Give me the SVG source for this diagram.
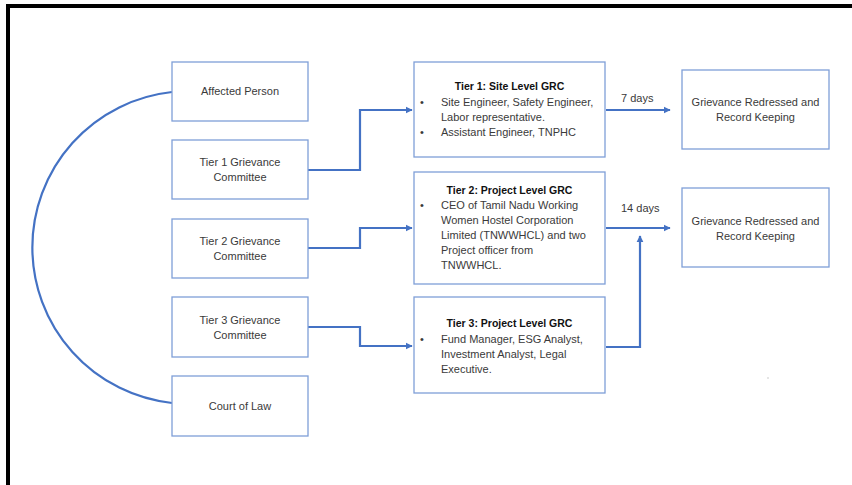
<svg xmlns="http://www.w3.org/2000/svg" width="852" height="485" viewBox="0 0 852 485">
<style>
.box{fill:#fff;stroke:#7F9FD8;stroke-width:1.3}
.t{font-family:"Liberation Sans","Open Sans",Arial,sans-serif;font-size:11px;fill:#3a3a3a}
.c{text-anchor:middle}
.b{font-weight:bold;fill:#111;font-size:10.5px}
.con{fill:none;stroke:#4472C4;stroke-width:2.2}
</style>
<defs>
<marker id="ah" viewBox="0 0 10 10" refX="9" refY="5" markerWidth="3.2" markerHeight="3.2" orient="auto" markerUnits="strokeWidth">
<path d="M0,0 L10,5 L0,10 z" fill="#4472C4"/>
</marker>
</defs>
<rect width="852" height="485" fill="#fff"/>
<g id="frame" fill="none" stroke="#000" stroke-width="4">
<path d="M8,487 L8,6 L854,6"/>
</g>
<g id="connectors">
<path class="con" d="M172,92 A156.4 156.4 0 0 0 172,403"/>
<path class="con" d="M308,170 L360,170 L360,110 L412,110" marker-end="url(#ah)"/>
<path class="con" d="M308,248 L360,248 L360,228 L412,228" marker-end="url(#ah)"/>
<path class="con" d="M308,327 L360,327 L360,346 L412,346" marker-end="url(#ah)"/>
<path class="con" d="M606,110 L670,110" marker-end="url(#ah)"/>
<path class="con" d="M606,228 L670,228" marker-end="url(#ah)"/>
<path class="con" d="M606,347 L640,347 L640,236" marker-end="url(#ah)"/>
<text class="t" x="621" y="101.5">7 days</text>
<text class="t" x="621" y="211.5">14 days</text>
</g>
<g id="affected">
<rect class="box" x="172" y="62" width="136" height="59"/>
<text class="t c" x="240" y="95">Affected Person</text>
</g>
<g id="tier1gc">
<rect class="box" x="172" y="140" width="136" height="59"/>
<text class="t c" x="240" y="166">Tier 1 Grievance</text>
<text class="t c" x="240" y="181">Committee</text>
</g>
<g id="tier2gc">
<rect class="box" x="172" y="219" width="136" height="59"/>
<text class="t c" x="240" y="245">Tier 2 Grievance</text>
<text class="t c" x="240" y="260">Committee</text>
</g>
<g id="tier3gc">
<rect class="box" x="172" y="297" width="136" height="60"/>
<text class="t c" x="240" y="324">Tier 3 Grievance</text>
<text class="t c" x="240" y="339">Committee</text>
</g>
<g id="court">
<rect class="box" x="172" y="376" width="136" height="60"/>
<text class="t c" x="240" y="410">Court of Law</text>
</g>
<g id="tier1grc">
<rect class="box" x="414" y="62" width="191" height="95"/>
<text class="t c b" x="509.5" y="90">Tier 1: Site Level GRC</text>
<text class="t" x="420" y="106">•</text>
<text class="t" x="441" y="106">Site Engineer, Safety Engineer,</text>
<text class="t" x="441" y="121">Labor representative.</text>
<text class="t" x="420" y="136">•</text>
<text class="t" x="441" y="136">Assistant Engineer, TNPHC</text>
</g>
<g id="tier2grc">
<rect class="box" x="414" y="172" width="191" height="112"/>
<text class="t c b" x="509.5" y="194">Tier 2: Project Level GRC</text>
<text class="t" x="420" y="209">•</text>
<text class="t" x="441" y="209">CEO of Tamil Nadu Working</text>
<text class="t" x="441" y="224">Women Hostel Corporation</text>
<text class="t" x="441" y="239">Limited (TNWWHCL) and two</text>
<text class="t" x="441" y="254">Project officer from</text>
<text class="t" x="441" y="269">TNWWHCL.</text>
</g>
<g id="tier3grc">
<rect class="box" x="414" y="297" width="191" height="96"/>
<text class="t c b" x="509.5" y="327">Tier 3: Project Level GRC</text>
<text class="t" x="420" y="343">•</text>
<text class="t" x="441" y="343">Fund Manager, ESG Analyst,</text>
<text class="t" x="441" y="358">Investment Analyst, Legal</text>
<text class="t" x="441" y="373">Executive.</text>
</g>
<g id="redressed1">
<rect class="box" x="682" y="70" width="147" height="79"/>
<text class="t c" x="755.5" y="106">Grievance Redressed and</text>
<text class="t c" x="755.5" y="121">Record Keeping</text>
</g>
<g id="redressed2">
<rect class="box" x="682" y="188" width="147" height="79"/>
<text class="t c" x="755.5" y="224.5">Grievance Redressed and</text>
<text class="t c" x="755.5" y="239.5">Record Keeping</text>
</g>
<rect x="767" y="377.5" width="2" height="1" fill="#ccc"/>
</svg>
